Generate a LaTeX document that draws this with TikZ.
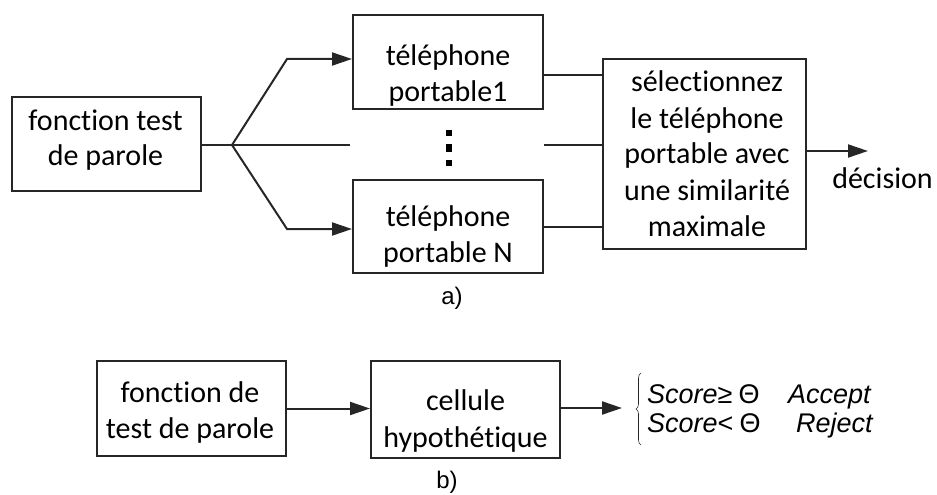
\documentclass[tikz,border=0pt]{standalone}
\usepackage{fontspec}
\setmainfont{Carlito}[Ligatures={NoCommon}]
\newfontfamily\arialfont{Liberation Sans}
\usetikzlibrary{arrows.meta,decorations.pathreplacing}
\begin{document}
\begin{tikzpicture}[x=1pt,y=-1pt,
  box/.style={draw=black!85,line width=2pt,rectangle,inner sep=0pt},
  lbl/.style={anchor=base,inner sep=0pt,font=\fontsize{30}{36}\selectfont},
  partlbl/.style={anchor=base,inner sep=0pt,font=\arialfont\fontsize{24}{28}\selectfont},
  rulelbl/.style={anchor=base west,inner sep=0pt,font=\arialfont\fontsize{27}{31}\selectfont},
  wire/.style={draw=black!85,line width=2pt},
  arr/.style={wire,-{Triangle[length=20pt,width=13pt]}}]
\useasboundingbox (0,0) rectangle (937,495);

% ---------- a) ----------
\node[box,minimum width=189pt,minimum height=94pt] (fa) at (106.5,144) {};
\node[lbl] (fa1) at (105.5,130) {fonction test};
\node[lbl] (fa2) at (105.5,165) {de parole};

\node[box,minimum width=190pt,minimum height=94pt] (p1) at (448,62) {};
\node[lbl] (p1a) at (448,66) {téléphone};
\node[lbl] (p1b) at (448,101) {portable1};

\node[box,minimum width=190pt,minimum height=93pt] (pn) at (448,226.5) {};
\node[lbl] (pna) at (448,226) {téléphone};
\node[lbl] (pnb) at (448,262) {portable N};

\node[box,minimum width=203pt,minimum height=190pt] (sel) at (704.5,154) {};
\node[lbl] (s1) at (707,92) {sélectionnez};
\node[lbl] (s2) at (707,128) {le téléphone};
\node[lbl] (s3) at (707,163) {portable avec};
\node[lbl] (s4) at (707,200) {une similarité};
\node[lbl] (s5) at (707,236) {maximale};

\node[lbl] (dec) at (882.5,188) {décision};
\node[partlbl] (ca) at (452,304) {a)};

% vertical ellipsis between the two phone boxes
\fill[black] (446,130) rectangle (452,136);
\fill[black] (446,144) rectangle (452,152);
\fill[black] (446,160) rectangle (452,166);

% fan-out from the speech test function
\coordinate (br) at (232,145);
\coordinate (k1) at (287,59);
\coordinate (k2) at (287,229);
\coordinate (m1) at (350,145);
\coordinate (m2) at (544,145);
\coordinate (out) at (868,151);
\draw[wire] (fa.east |- br) -- (br);
\draw[arr] (br) -- (k1) -- (k1 -| p1.west);
\draw[arr] (br) -- (k2) -- (k2 -| pn.west);
\draw[wire] (br) -- (m1);
\draw[wire] (m2) -- (m2 -| sel.west);

% phones into the selection block
\draw[wire] ([yshift=-13pt]p1.east) coordinate (q1) -- (q1 -| sel.west);
\draw[wire] (pn.east) -- (pn.east -| sel.west);
\draw[arr] (sel.east |- out) -- (out);

% ---------- b) ----------
\node[box,minimum width=189pt,minimum height=95pt] (fb) at (191.5,408.5) {};
\node[lbl] (fb1) at (190,402) {fonction de};
\node[lbl] (fb2) at (190,438) {test de parole};

\node[box,minimum width=189pt,minimum height=97pt] (hc) at (465.5,409.5) {};
\node[lbl] (hc1) at (465.5,410) {cellule};
\node[lbl] (hc2) at (465.5,447) {hypothétique};

\coordinate (res) at (622,408);
\draw[arr] (fb.east) -- (fb.east -| hc.west);
\draw[arr] (hc.east |- res) -- (res);

\draw[black!85,line width=0.6pt,decorate,decoration={brace,amplitude=5pt}]
  (641,445) -- (641,373);
\node[rulelbl] (r1) at (647,403) {\itshape Score\upshape ≥\hspace{6pt}Θ};
\node[rulelbl] (r2) at (647,432) {\itshape Score\upshape <\hspace{6pt}Θ};
\node[rulelbl] (r3) at (788,403) {\itshape Accept};
\node[rulelbl] (r4) at (796,432) {\itshape Reject};

\node[partlbl] (cb) at (447,488) {b)};
\end{tikzpicture}
\end{document}
